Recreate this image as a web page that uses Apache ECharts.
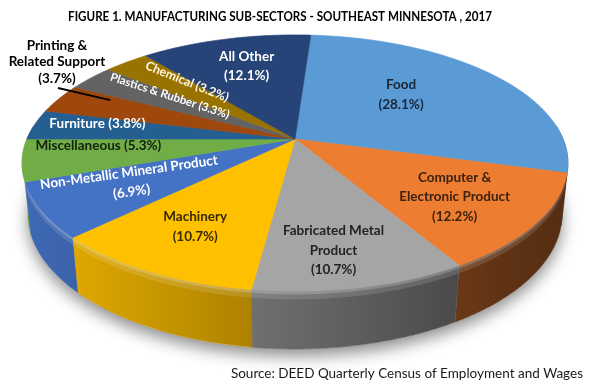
<!DOCTYPE html>
<html>
<head>
<meta charset="utf-8">
<script src="https://cdn.jsdelivr.net/npm/echarts/dist/echarts.min.js"></script>
<style>
html,body{margin:0;padding:0;background:#fff;}
#chart{width:591px;height:386px;}
</style>
</head>
<body>
<div id="chart"></div>
<script>
// ---------------- data ----------------
const categories = ['Food', 'Computer & Electronic Product', 'Fabricated Metal Product', 'Machinery',
  'Non-Metallic Mineral Product', 'Miscellaneous', 'Furniture', 'Printing & Related Support',
  'Plastics & Rubber', 'Chemical', 'All Other'];
const shares = [28.1, 12.2, 10.7, 10.7, 6.9, 5.3, 3.8, 3.7, 3.3, 3.2, 12.1];
const sliceColors = ['#5B9BD5', '#ED7D31', '#A5A5A5', '#FFC000', '#4472C4', '#70AD47',
  '#255E91', '#9E480E', '#636363', '#997300', '#264478'];
const labelLines = ['Food', 'Computer &\nElectronic Product', 'Fabricated Metal\nProduct', 'Machinery',
  'Non-Metallic Mineral Product', 'Miscellaneous', 'Furniture', 'Printing &\nRelated Support',
  'Plastics & Rubber', 'Chemical', 'All Other'];
const labelSep = ['\n', '\n', '\n', '\n', '\n', ' ', ' ', '\n', ' ', ' ', '\n'];
const titleText = 'FIGURE 1. MANUFACTURING SUB-SECTORS - SOUTHEAST MINNESOTA , 2017';
const sourceText = 'Source: DEED Quarterly Census of Employment and Wages';

// ---------------- styling / layout ----------------
const FONT = 'Lato';
// rot: degrees, positive = text rising to the right
const labelStyle = [
  { r: 0.6, dx: -17, dy: -4,  color: '#1b2538', rot: 0,   size: 13.5 },
  { r: 0.6, dx: 22,  dy: 10,  color: '#3a2210', rot: 0,   size: 13.5 },
  { r: 0.6, dx: 2,   dy: 30,  color: '#222222', rot: 0,   size: 13.5 },
  { r: 0.6, dx: -19, dy: 14,  color: '#382b00', rot: 0,   size: 13.5 },
  { r: 0.6, dx: -19, dy: 2,   color: '#ffffff', rot: 8,   size: 13.5 },
  { r: 0.6, dx: -35, dy: -6,  color: '#142010', rot: 0,   size: 13.5 },
  { r: 0.6, dx: -40, dy: -7,  color: '#ffffff', rot: 0,   size: 13.5 },
  { outside: true, lx: 57, ly: 62, ex: -5, ey: -8, color: '#000000', size: 13.5 },
  { r: 0.6, dx: 2,   dy: -5,  color: '#ffffff', rot: -18, size: 11.5 },
  { r: 0.6, dx: -2,  dy: -9,  color: '#fff6dc', rot: -22, size: 12.5 },
  { r: 0.6, dx: -4,  dy: -9,  color: '#ffffff', rot: 0,   size: 13.5 }
];

// 3D projection of the pie disc
const P = { cx: 295, cy: 139, F: 1268, D0: 4.73, s: 0.461, h: 0.216, start: 4 };
P.c = Math.sqrt(1 - P.s * P.s);
function proj(deg, r, y) {
  const t = deg * Math.PI / 180;
  const x = r * Math.sin(t), z = -r * Math.cos(t);
  const v = -z * P.s + y * P.c;
  const w = P.D0 - z * P.c - y * P.s;
  return [P.cx + P.F * x / w, P.cy - P.F * v / w];
}
const total = shares.reduce((a, b) => a + b, 0);
const cum = [];
shares.reduce((a, b, i) => { cum[i] = a; return a + b; }, 0);
function sliceAngles(i) {
  const a0 = P.start + cum[i] / total * 360;
  return [a0, a0 + shares[i] / total * 360];
}
function hexToRgb(h) { const n = parseInt(h.slice(1), 16); return [(n >> 16) & 255, (n >> 8) & 255, n & 255]; }
function shade(hex, f) {
  const c = hexToRgb(hex).map(v => Math.max(0, Math.min(255, Math.round(v * f))));
  return 'rgb(' + c.join(',') + ')';
}
function rimFactorX(t) { // t: 0 (left edge) .. 1 (right edge)
  return Math.max(0.36, Math.min(0.92, 0.63 - 0.3 * (2 * t - 1)));
}
function arcPts(a, b, y, step) {
  const n = Math.max(1, Math.ceil(Math.abs(b - a) / step));
  const out = [];
  for (let k = 0; k <= n; k++) out.push(proj(a + (b - a) * k / n, 1, y));
  return out;
}

function renderSlice(params, api) {
  const i = api.value(0);
  const [a0, a1] = sliceAngles(i);
  const col = sliceColors[i];
  const children = [];
  // top face
  const pts = [proj(0, 0, 0)].concat(arcPts(a0, a1, 0, 0.5));
  children.push({ type: 'polygon', z2: 1000, shape: { points: pts },
    style: { fill: col, stroke: col, lineWidth: 0.7 } });
  // outer wall (front half only)
  const r0 = Math.max(a0, 84), r1 = Math.min(a1, 276);
  if (r1 > r0) {
    const top = arcPts(r0, r1, 0, 0.5);
    const bot = arcPts(r1, r0, -P.h, 0.5);
    const L = P.cx - 272, R = P.cx + 272;
    const stops = [];
    for (let k = 0; k <= 8; k++) stops.push({ offset: k / 8, color: shade(col, rimFactorX(k / 8)) });
    const mid = (r0 + r1) / 2;
    children.push({ type: 'polygon', z2: Math.round(100 - 80 * Math.cos(mid * Math.PI / 180)),
      shape: { points: top.concat(bot) },
      style: { fill: { type: 'linear', x: L, y: 0, x2: R, y2: 0, global: true, colorStops: stops },
        stroke: shade(col, rimFactorX(((proj(mid, 1, 0)[0]) - L) / (R - L))), lineWidth: 0.5 } });
    // soft bevel highlight along the top edge of the wall
    const b1 = arcPts(r1, r0, -0.012, 0.5);
    const b2 = arcPts(r1, r0, -0.03, 0.5);
    children.push({ type: 'polygon', z2: 600, shape: { points: top.concat(b1) },
      style: { fill: 'rgba(255,255,255,0.30)' } });
    children.push({ type: 'polygon', z2: 600, shape: { points: arcPts(r0, r1, -0.012, 0.5).concat(b2) },
      style: { fill: 'rgba(255,255,255,0.13)' } });
  }
  return { type: 'group', children };
}

function renderShadow() {
  const pts = [];
  for (let d = 0; d < 360; d += 2) pts.push(proj(d, 1, -P.h));
  return { type: 'polygon', shape: { points: pts },
    style: { fill: '#ffffff', shadowBlur: 16, shadowColor: 'rgba(0,0,0,0.45)', shadowOffsetY: 7 } };
}

function renderLabel(params, api) {
  const i = api.value(0);
  const [a0, a1] = sliceAngles(i);
  const mid = (a0 + a1) / 2;
  const L = labelStyle[i];
  const txt = labelLines[i] + labelSep[i] + '(' + shares[i].toFixed(1) + '%)';
  const font = 'bold ' + L.size + 'px ' + FONT;
  if (L.outside) {
    const e = proj(mid, 0.75, 0);
    return { type: 'group', children: [
      { type: 'line', shape: { x1: L.lx + 1, y1: L.ly + 26, x2: e[0] + L.ex, y2: e[1] + L.ey },
        style: { stroke: '#000', lineWidth: 1.8 } },
      { type: 'text', x: L.lx, y: L.ly, style: { text: txt, fill: L.color, font: font,
        align: 'center', verticalAlign: 'middle', lineHeight: 16.5 } }
    ] };
  }
  const p = proj(mid, L.r, 0);
  return { type: 'text', x: p[0] + L.dx, y: p[1] + L.dy, rotation: L.rot * Math.PI / 180,
    style: { text: txt, fill: L.color, font: font, align: 'center', verticalAlign: 'middle', lineHeight: 19.5 } };
}

const chart = echarts.init(document.getElementById('chart'), null, { renderer: 'canvas' });
const seriesData = shares.map((v, i) => ({ name: categories[i], value: [i, v] }));
chart.setOption({
  animation: false,
  graphic: [
    { type: 'text', x: 280, y: 16, scaleX: 0.83, scaleY: 1, z: 10,
      style: { text: titleText, fill: '#000', font: 'bold 14px ' + FONT, align: 'center', verticalAlign: 'middle' } },
    { type: 'text', x: 583, y: 374, z: 10,
      style: { text: sourceText, fill: '#1a1a1a', font: '13.5px ' + FONT, align: 'right', verticalAlign: 'middle' } }
  ],
  series: [
    { type: 'custom', coordinateSystem: 'none', z: 1, silent: true, data: [[0]], renderItem: renderShadow },
    { type: 'custom', coordinateSystem: 'none', z: 2, silent: true, data: seriesData, renderItem: renderSlice },
    { type: 'custom', coordinateSystem: 'none', z: 3, silent: true, data: seriesData, renderItem: renderLabel }
  ]
});
</script>
</body>
</html>
